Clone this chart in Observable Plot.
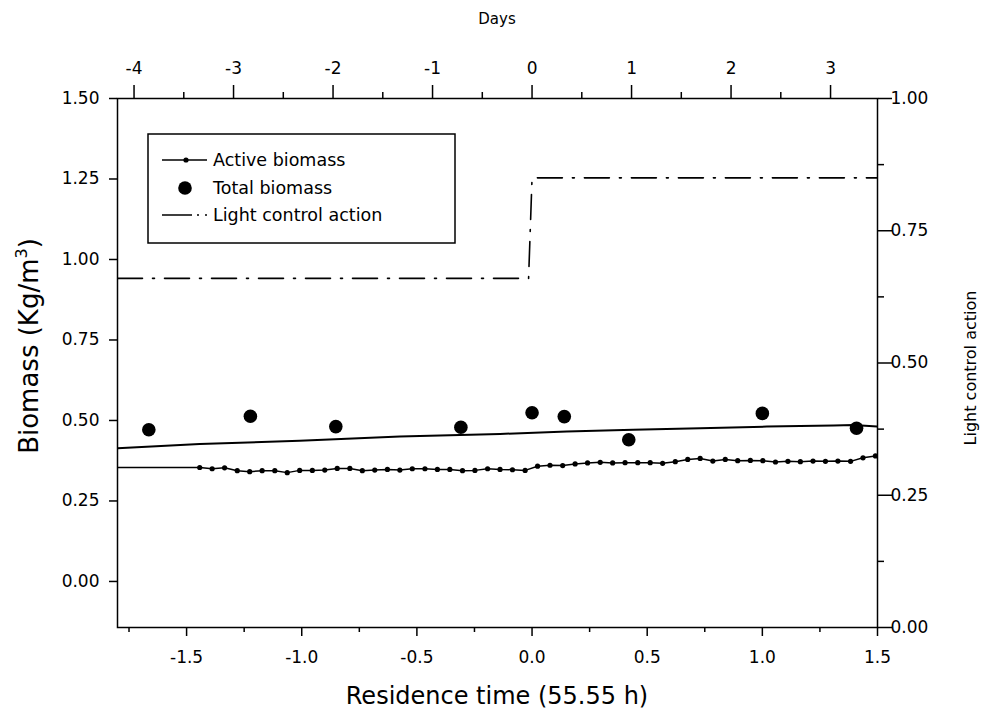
<!DOCTYPE html>
<html><head><meta charset="utf-8">
<script src="https://cdn.jsdelivr.net/npm/d3@7"></script>
<script src="https://cdn.jsdelivr.net/npm/@observablehq/plot@0.6"></script>
<style>body{margin:0;background:#fff} svg{display:block}</style>
</head><body><div id="chart"></div>
<script>
// ---- data ----
const activeLeadX = [-1.8];
const activeLeadY = [0.354];
const activeX = [-1.443,-1.389,-1.335,-1.280,-1.226,-1.172,-1.117,-1.063,-1.009,-0.954,
  -0.900,-0.846,-0.791,-0.737,-0.683,-0.628,-0.574,-0.520,-0.465,-0.411,
  -0.357,-0.302,-0.248,-0.193,-0.139,-0.085,-0.030,0.024,0.078,0.133,
  0.187,0.241,0.296,0.350,0.404,0.459,0.513,0.567,0.622,0.676,
  0.730,0.785,0.839,0.893,0.948,1.002,1.057,1.111,1.165,1.220,
  1.274,1.328,1.383,1.437,1.491];
const activeY = [0.354,0.350,0.353,0.344,0.341,0.344,0.344,0.338,0.345,0.345,
  0.346,0.351,0.351,0.344,0.346,0.348,0.346,0.350,0.350,0.348,
  0.348,0.344,0.345,0.350,0.348,0.347,0.345,0.358,0.361,0.360,
  0.365,0.368,0.370,0.368,0.369,0.369,0.369,0.367,0.372,0.379,
  0.382,0.374,0.379,0.375,0.376,0.375,0.371,0.373,0.372,0.374,
  0.373,0.374,0.373,0.384,0.390];
const totalX = [-1.664,-1.223,-0.852,-0.309,0.000,0.140,0.420,1.000,1.409];
const totalY = [0.471,0.513,0.481,0.479,0.524,0.512,0.440,0.522,0.476];
const fitX = [-1.8,-1.443,-1.009,-0.574,-0.139,0.151,0.439,0.730,1.020,1.309,1.396,1.5];
const fitY = [0.414,0.427,0.437,0.450,0.458,0.466,0.471,0.476,0.481,0.484,0.486,0.481];
const lightX = [-1.8,-0.015,0.0,1.5];
const lightY = [0.66,0.66,0.85,0.85];
// ticks
const leftTicks = [0,0.25,0.5,0.75,1,1.25,1.5];
const rightTicks = [0,0.25,0.5,0.75,1];
const rightMinor = [0.125,0.375,0.625,0.875];
const bottomTicks = [-1.5,-1,-0.5,0,0.5,1,1.5];
const bottomMinor = [-1.75,-1.25,-0.75,-0.25,0.25,0.75,1.25];
const dayTicks = [-4,-3,-2,-1,0,1,2,3];
const dayMinor = [-3.5,-2.5,-1.5,-0.5,0.5,1.5,2.5];
const residenceHours = 55.55;
const legendLabels = ["Active biomass","Total biomass","Light control action"];

// ---- build ----
const D = residenceHours/24; // days per residence time
const yLo = -0.143, yHi = 1.5;
const toLeft = v => yLo + v*(yHi-yLo);
const font = "'DejaVu Sans', 'Liberation Sans', sans-serif";
const TICK = 17;

const active = activeX.map((x,i)=>({x, y:activeY[i]}));
const activeLine = activeLeadX.map((x,i)=>({x, y:activeLeadY[i]})).concat(active);
const total = totalX.map((x,i)=>({x, y:totalY[i]}));
const fit = fitX.map((x,i)=>({x, y:fitY[i]}));
const light = lightX.map((x,i)=>({x, v:lightY[i]}));

const W = 986, H = 712;
const chart = Plot.plot({
  width: W, height: H,
  marginLeft: 117, marginRight: 109, marginTop: 98, marginBottom: 85,
  x: {domain: [-1.8, 1.5]},
  y: {domain: [yLo, yHi]},
  style: {fontFamily: font, fontSize: TICK + "px", color: "#000", background: "#fff"},
  marks: [
    Plot.line(fit, {x:"x", y:"y", stroke:"#000", strokeWidth:2, clip:true}),
    Plot.line(light, {x:"x", y: d => toLeft(d.v), stroke:"#000", strokeWidth:1.6, strokeDasharray:"25,10,2,10", clip:true}),
    Plot.line(activeLine, {x:"x", y:"y", stroke:"#000", strokeWidth:1.5, clip:true}),
    Plot.dot(active, {x:"x", y:"y", r:2.6, fill:"#000", stroke:"none"}),
    Plot.dot(total, {x:"x", y:"y", r:6.8, fill:"#000", stroke:"none"}),
    Plot.frame({stroke:"#000", strokeWidth:1.5}),
    Plot.axisY(leftTicks, {anchor:"left", tickSize:8, tickPadding:10, strokeWidth:1.5, tickFormat: d => d.toFixed(2), label:null, fontSize:TICK}),
    Plot.axisY(rightTicks.map(toLeft), {anchor:"right", tickSize:14, tickPadding:-1, strokeWidth:1.5, tickFormat: (d,i) => rightTicks[i].toFixed(2), label:null, fontSize:TICK}),
    Plot.axisY(rightMinor.map(toLeft), {anchor:"right", tickSize:6, strokeWidth:1.5, tickFormat: () => "", label:null}),
    Plot.axisX(bottomTicks, {anchor:"bottom", tickSize:9, tickPadding:14, strokeWidth:1.5, tickFormat: d => d.toFixed(1), label:null, fontSize:TICK}),
    Plot.axisX(bottomMinor, {anchor:"bottom", tickSize:5, strokeWidth:1.5, tickFormat: () => "", label:null}),
    Plot.axisX(dayTicks.map(d => d/D), {anchor:"top", tickSize:14, tickPadding:11, strokeWidth:1.5, tickFormat: (d,i) => String(dayTicks[i]), label:null, fontSize:TICK}),
    Plot.axisX(dayMinor.map(d => d/D), {anchor:"top", tickSize:7, strokeWidth:1.5, tickFormat: () => "", label:null})
  ]
});
document.getElementById("chart").appendChild(chart);

// ---- titles and legend ----
const svg = d3.select(chart);
const g = svg.append("g").attr("font-family", font).attr("fill", "#000").attr("text-anchor","middle");
g.append("text").attr("x", 497).attr("y", 24).attr("font-size", 15).text("Days");
g.append("text").attr("x", 497).attr("y", 704).attr("font-size", 24).text("Residence time (55.55 h)");
const yl = g.append("text").attr("transform","translate(38,346) rotate(-90)").attr("font-size", 26);
yl.append("tspan").text("Biomass (Kg/m");
yl.append("tspan").attr("font-size", 16).attr("dy", -11).text("3");
yl.append("tspan").attr("dy", 11).text(")");
g.append("text").attr("transform","translate(976,368) rotate(-90)").attr("font-size", 16).text("Light control action");

const lg = svg.append("g").attr("font-family", font);
lg.append("rect").attr("x",148).attr("y",134).attr("width",307).attr("height",109).attr("fill","#fff").attr("stroke","#000").attr("stroke-width",1.5);
const rows = [160, 188, 215];
lg.append("line").attr("x1",162).attr("x2",207).attr("y1",rows[0]).attr("y2",rows[0]).attr("stroke","#000").attr("stroke-width",1.5);
lg.append("circle").attr("cx",186).attr("cy",rows[0]).attr("r",2.6).attr("fill","#000");
lg.append("circle").attr("cx",185).attr("cy",rows[1]).attr("r",6.8).attr("fill","#000");
lg.append("line").attr("x1",162).attr("x2",207).attr("y1",rows[2]).attr("y2",rows[2]).attr("stroke","#000").attr("stroke-width",1.6).attr("stroke-dasharray","30,5,2,6,2,10");
legendLabels.forEach((t,i) => {
  lg.append("text").attr("x",213).attr("y",rows[i]).attr("dy","0.36em").attr("font-size",17.5).attr("text-anchor","start").attr("fill","#000").text(t);
});
</script>
</body></html>
